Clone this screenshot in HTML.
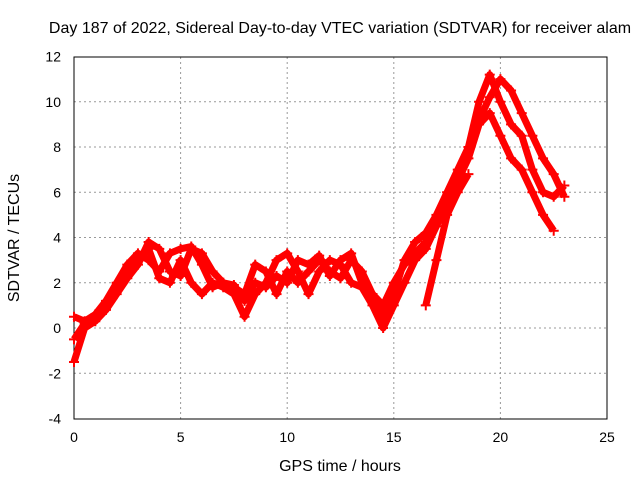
<!DOCTYPE html>
<html><head><meta charset="utf-8"><style>
body{margin:0;background:#fff;}
svg{display:block;font-family:"Liberation Sans",sans-serif;}
</style></head><body>
<svg id="chart" width="640" height="480" viewBox="0 0 640 480">
<rect x="0" y="0" width="640" height="480" fill="#fff"/>
<text x="340" y="33" font-size="16" text-anchor="middle">Day 187 of 2022, Sidereal Day-to-day VTEC variation (SDTVAR) for receiver alam</text>
<g id="grid"></g>
<g id="axes"></g>
<g id="series"></g>
<text x="340" y="471" font-size="16" text-anchor="middle">GPS time / hours</text>
<text transform="translate(19,238) rotate(-90)" font-size="16" text-anchor="middle">SDTVAR / TECUs</text>
</svg>
<script>
const xTicks=[0,5,10,15,20,25];
const yTicks=[-4,-2,0,2,4,6,8,10,12];
const timesA=[0,0.5,1,1.5,2,2.5,3,3.5,4,4.5,5,5.5,6,6.5,7,7.5,8,8.5,9,9.5,10,10.5,11,11.5,12,12.5,13,13.5,14,14.5,15,15.5,16,16.5,17,17.5,18,18.5,19,19.5,20,20.5,21,21.5,22,22.5,23];
const valuesA=[-1.5,0,0.3,0.8,1.5,2.2,2.8,3.8,3.5,2.5,2.3,3.5,3.3,2.5,2,1.8,1.5,2.8,2.5,1.5,2.5,2,2.5,3,2.5,2.2,3,2.5,1.5,0.5,1.5,3,3.8,4.2,5,6,7,8,10,11.2,10,9,8.5,7,6,5.8,6.3];
const timesB=[0,0.5,1,1.5,2,2.5,3,3.5,4,4.5,5,5.5,6,6.5,7,7.5,8,8.5,9,9.5,10,10.5,11,11.5,12,12.5,13,13.5,14,14.5,15,15.5,16,16.5,17,17.5,18,18.5,19,19.5,20,20.5,21,21.5,22,22.5];
const valuesB=[-0.5,0.2,0.5,1,1.8,2.5,3,3.5,2.2,2,3,2,1.5,2,1.8,1.5,0.5,1.5,2,3,3.3,2.5,1.5,2.5,3,2.8,2,1.8,1,0,1,2,3,3.5,4.5,5.5,6.5,7.5,9,9.5,8.5,7.5,7,6,5,4.3];
const timesC=[0,0.5,1,1.5,2,2.5,3,3.5,4,4.5,5,5.5,6,6.5,7,7.5,8,8.5,9,9.5,10,10.5,11,11.5,12,12.5,13,13.5,14,14.5,15,15.5,16,16.5,17,17.5,18,18.5,19,19.5,20,20.5,21,21.5,22,22.5,23];
const valuesC=[0.5,0.3,0.6,1.2,2,2.8,3.3,3,2.5,3.3,3.5,3.6,2.8,1.8,2,1.9,1.2,2,1.8,2.3,2,3,2.8,3.2,2.3,3,3.3,2,1.5,1,2,2.8,3.3,3.8,4.8,5.8,6.8,7.8,9.2,10.2,11,10.5,9.5,8.5,7.5,6.8,5.8];
const timesD=[16.5,17,17.5,18,18.5];
const valuesD=[1,3,5,6,6.8];
const X=h=>74+h*(533/25), Y=v=>328-v*(362/16);
const NS='http://www.w3.org/2000/svg';
const grid=document.getElementById('grid'),axes=document.getElementById('axes'),ser=document.getElementById('series');
function mk(t,a,p){const e=document.createElementNS(NS,t);for(const k in a)e.setAttribute(k,a[k]);p.appendChild(e);return e;}
xTicks.forEach(t=>{
 if(t>0&&t<25){const g=mk('line',{x1:X(t),x2:X(t),y1:57,y2:419,stroke:'#999','stroke-dasharray':'2,3'},grid);
 
 }
 const l=mk('text',{x:X(t),y:442,'font-size':14,'text-anchor':'middle'},axes);l.textContent=t;
 
 
});
yTicks.forEach(t=>{
 if(t>-4&&t<12){const g=mk('line',{x1:74,x2:607,y1:Y(t),y2:Y(t),stroke:'#999','stroke-dasharray':'2,3'},grid);
 
 }
 const l=mk('text',{x:61,y:Y(t)+5,'font-size':14,'text-anchor':'end'},axes);l.textContent=t;
 
 
});
const fr=mk('rect',{x:74,y:57,width:533,height:362,fill:'none',stroke:'#000'},axes);


[[timesA,valuesA],[timesB,valuesB],[timesC,valuesC],[timesD,valuesD]].forEach(([ts,vs],i)=>{
 const pts=ts.map((t,j)=>X(t)+','+Y(vs[j])).join(' ');
 const pl=mk('polyline',{points:pts,fill:'none',stroke:'#f00','stroke-width':7,'stroke-linejoin':'round'},ser);
 
 
 ts.forEach((t,j)=>{const x=X(t),y=Y(vs[j]);
  const p=mk('path',{d:`M${x-5},${y}H${x+5}M${x},${y-5}V${y+5}`,stroke:'#f00','stroke-width':2},ser);
  
  });
});
</script>
</body></html>
